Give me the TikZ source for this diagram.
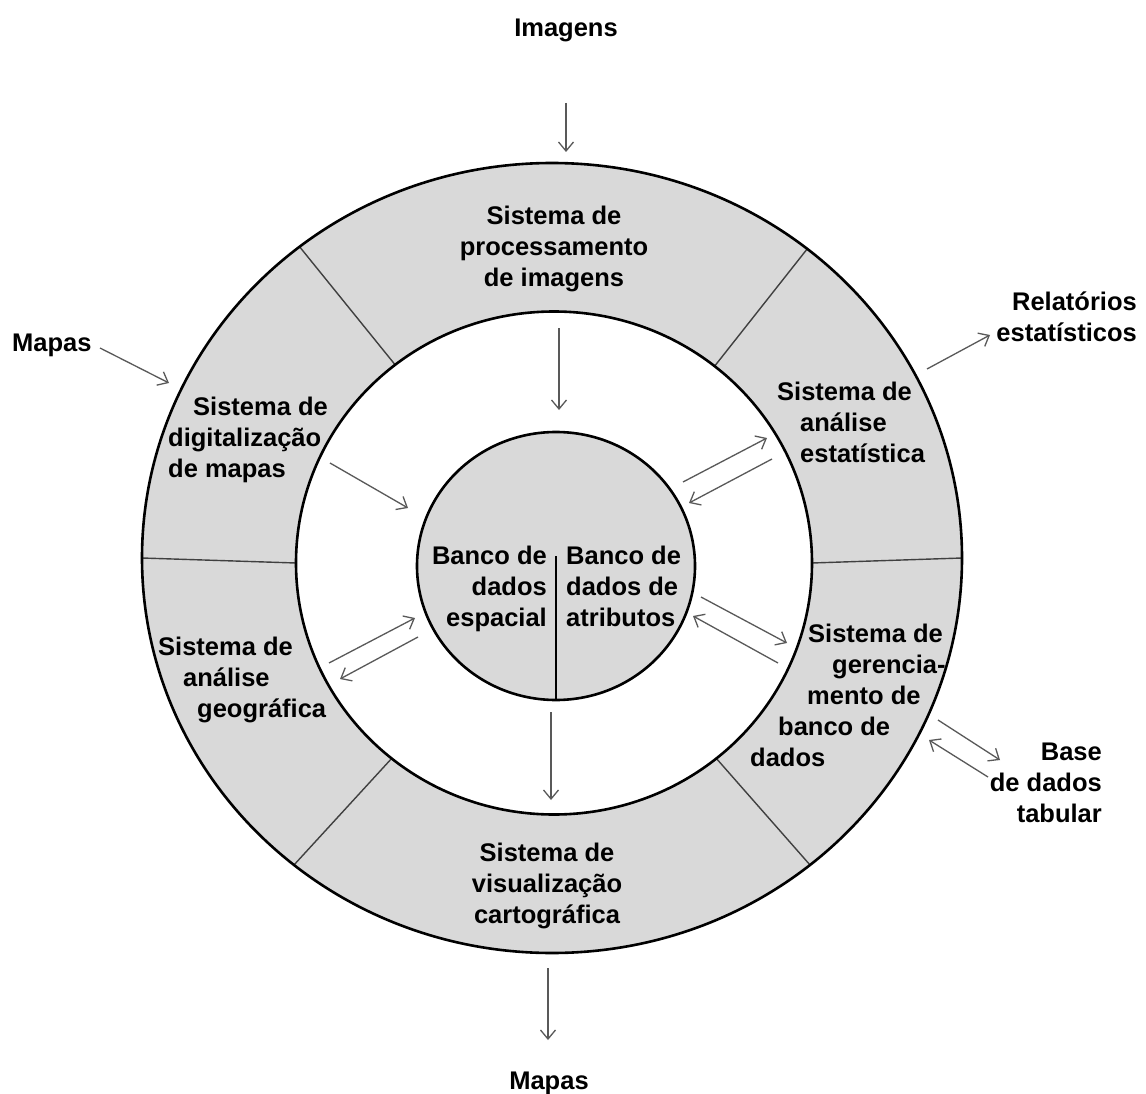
\documentclass[tikz,border=0pt]{standalone}
\usepackage{fontspec}
\setmainfont{Liberation Sans}
\usetikzlibrary{arrows.meta,calc}
\definecolor{ringgray}{RGB}{217,217,217}
\begin{document}
\begin{tikzpicture}[x=1pt,y=-1pt,
  lbl/.style={font=\fontsize{25.5}{31}\selectfont\bfseries, inner sep=0pt,
              execute at begin node=\strut, execute at end node=\strut},
  arr/.style={draw=black!65, line width=1.3pt, -{Straight Barb[length=9pt,width=15pt]}},
  ringline/.style={draw=black, line width=2.6pt},
  divider/.style={draw=black!75, line width=1.4pt}
]
\useasboundingbox (0,0) rectangle (1146,1094);
\fill[white] (0,0) rectangle (1146,1094);
% centres
\coordinate (oc) at (552,558);
\coordinate (ic) at (554,563);
\coordinate (cc) at (556,566);
% outer ring
\fill[ringgray] (oc) ellipse [x radius=410, y radius=395];
\foreach \a in {-128,-51.5,180,0,129,51}{
  \draw[divider] ($(oc)+(\a:410 and 395)$) -- ($(ic)+(\a:258 and 251.5)$);
}
\draw[ringline] (oc) ellipse [x radius=410, y radius=395];
% inner white disc
\filldraw[ringline, fill=white] (ic) ellipse [x radius=258, y radius=251.5];
% central database disc
\filldraw[ringline, fill=ringgray] (cc) ellipse [x radius=139, y radius=134];
\draw[line width=2.6pt] (556,556) -- (556,700);

% labels
\node[lbl] (imagens) at (566,30) {Imagens};
\node[lbl, align=center] (proc) at (554,251) {Sistema de\\processamento\\de imagens};
\node[lbl, anchor=west] (mapasIn) at (12,345) {Mapas};
\node[lbl, anchor=west, align=left] (digit) at (168,442)
  {\hspace*{25pt}Sistema de\\digitalização\\de mapas};
\node[lbl, anchor=west, align=left] (estat) at (777,427)
  {Sistema de\\\hspace*{23pt}análise\\\hspace*{23pt}estatística};
\node[lbl, anchor=east, align=right] (relat) at (1137,321) {Relatórios\\estatísticos};
\node[lbl, anchor=east, align=right] (bdesp) at (547,591) {Banco de\\dados\\espacial};
\node[lbl, anchor=west, align=left] (bdatr) at (566,591) {Banco de\\dados de\\atributos};
\node[lbl, anchor=west, align=left] (geo) at (158,682)
  {Sistema de\\\hspace*{25pt}análise\\\hspace*{39pt}geográfica};
\node[lbl, anchor=west, align=left] (sgbd) at (750,700)
  {\hspace*{58pt}Sistema de\\\hspace*{82pt}gerencia-\\\hspace*{57pt}mento de\\\hspace*{28pt}banco de\\dados};
\node[lbl, align=center] (visual) at (547,888) {Sistema de\\visualização\\cartográfica};
\node[lbl, anchor=east, align=right] (tabular) at (1102,787) {Base\\de dados\\tabular};
\node[lbl] (mapasOut) at (549,1083) {Mapas};

% connector end points
\coordinate (p1a) at (566,103);  \coordinate (p1b) at (566,152);
\coordinate (p2a) at (559,328);  \coordinate (p2b) at (559,410);
\coordinate (p3a) at (100,348);  \coordinate (p3b) at (169,383);
\coordinate (p4a) at (330,463);  \coordinate (p4b) at (408,508);
\coordinate (p5a) at (683,482);  \coordinate (p5b) at (767,438);
\coordinate (p6a) at (772,459);  \coordinate (p6b) at (689,503);
\coordinate (p7a) at (927,369);  \coordinate (p7b) at (990,335);
\coordinate (p8a) at (329,663);  \coordinate (p8b) at (415,618);
\coordinate (p9a) at (418,637);  \coordinate (p9b) at (340,679);
\coordinate (p10a) at (701,597); \coordinate (p10b) at (787,643);
\coordinate (p11a) at (778,663); \coordinate (p11b) at (693,616);
\coordinate (p12a) at (938,720); \coordinate (p12b) at (1000,760);
\coordinate (p13a) at (988,777); \coordinate (p13b) at (929,740);
\coordinate (p14a) at (551,712); \coordinate (p14b) at (551,800);
\coordinate (p15a) at (548,968); \coordinate (p15b) at (548,1040);

\foreach \i in {1,...,15}{
  \draw[arr] (p\i a) -- (p\i b);
}
\end{tikzpicture}
\end{document}
